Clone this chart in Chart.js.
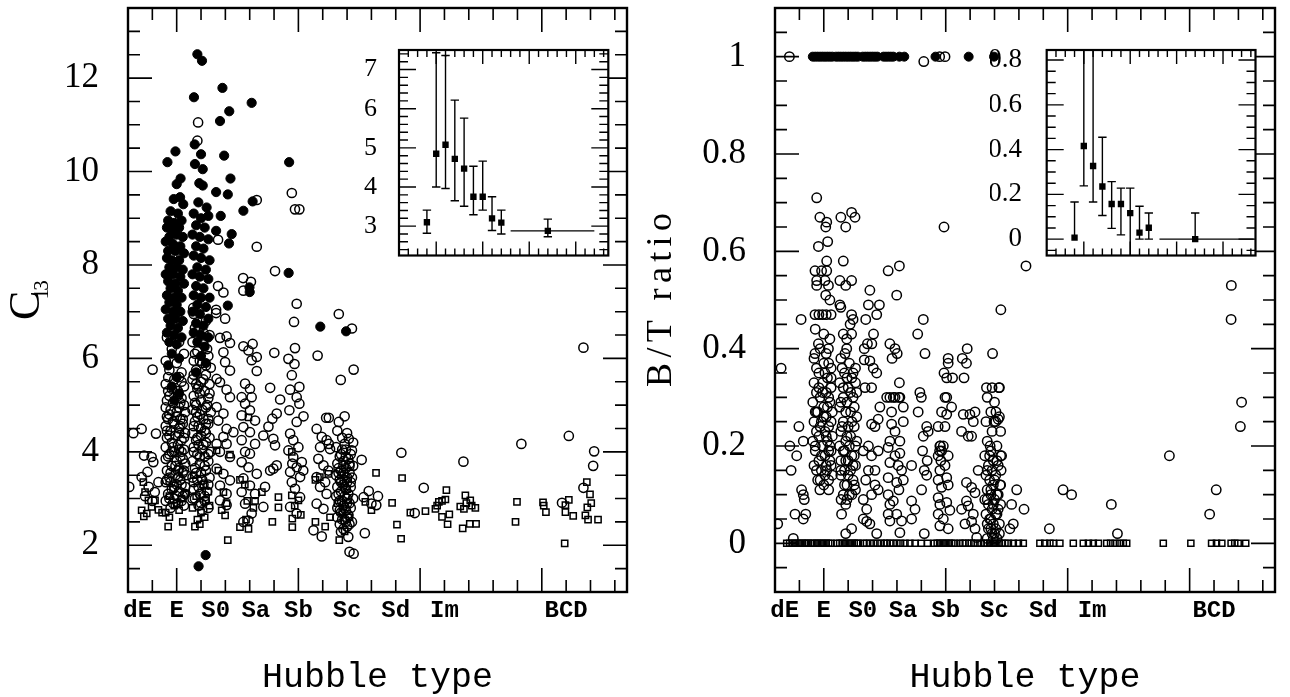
<!DOCTYPE html>
<html>
<head>
<meta charset="utf-8">
<script src="https://cdn.jsdelivr.net/npm/chart.js"></script>
<style>
body{margin:0;background:#fff;}
canvas{position:absolute;}
</style>
</head>
<body>
<canvas id="mainL" width="645" height="697" style="left:0;top:0"></canvas>
<canvas id="mainR" width="645" height="697" style="left:645px;top:0"></canvas>
<canvas id="insL" width="270" height="230" style="left:345px;top:30px"></canvas>
<canvas id="insR" width="270" height="230" style="left:990px;top:30px"></canvas>
<script>
// tick labels
const hubbleTickValues = [-1.6, 0, 1.6, 3.25, 5, 7, 9, 11, 16];
const hubbleTickLabels = ['dE', 'E', 'S0', 'Sa', 'Sb', 'Sc', 'Sd', 'Im', 'BCD'];
const c31TickValues = [2, 4, 6, 8, 10, 12];
const c31TickLabels = ['2', '4', '6', '8', '10', '12'];
const btTickValues = [0, 0.2, 0.4, 0.6, 0.8, 1];
const btTickLabels = ['0', '0.2', '0.4', '0.6', '0.8', '1'];
const insetC31TickValues = [3, 4, 5, 6, 7];
const insetC31TickLabels = ['3', '4', '5', '6', '7'];
const insetBtTickValues = [0, 0.2, 0.4, 0.6, 0.8];
const insetBtTickLabels = ['0', '0.2', '0.4', '0.6', '0.8'];

// left panel: C31 vs type  [type, C31]
const c31Filled = [
[0.85,12.51],[1.04,12.37],[1.88,11.79],[0.71,11.59],[3.08,11.47],[2.16,11.29],[1.78,11.08],[0.74,10.58],[-0.05,10.43],[-0.38,10.2],
[1.0,10.37],[1.95,10.34],[0.75,10.16],[1.07,10.05],[4.62,10.2],[2.21,9.85],[0.16,9.85],[0.0,9.73],[0.93,9.75],[1.07,9.7],
[1.62,9.56],[2.1,9.51],[3.12,9.36],[2.74,9.16],[-0.12,9.41],[0.14,9.45],[0.27,9.3],[0.89,9.34],[1.23,9.23],[1.81,9.05],
[1.62,8.73],[2.26,8.66],[2.15,8.46],[4.6,7.83],[2.99,7.52],[3.0,7.42],[2.1,7.13],[6.96,6.58],[5.9,6.68],[1.19,1.79],[0.9,1.55],
[-0.25,9.15],[0.05,9.1],[-0.35,8.95],[-0.1,8.9],[0.2,8.95],[-0.4,8.8],[-0.2,8.75],[0.1,8.8],[-0.3,8.6],[0.0,8.65],
[0.25,8.6],[-0.45,8.5],[-0.15,8.45],[0.15,8.4],[-0.35,8.3],[-0.05,8.3],[0.3,8.25],[-0.4,8.15],[-0.2,8.1],[0.1,8.1],
[-0.3,7.95],[0.0,7.95],[0.25,7.9],[-0.45,7.8],[-0.15,7.8],[0.15,7.75],[-0.35,7.65],[-0.05,7.6],[0.3,7.6],[-0.25,7.5],
[0.05,7.45],[-0.4,7.35],[-0.1,7.3],[0.2,7.3],[-0.3,7.2],[0.0,7.15],[-0.45,7.05],[-0.15,7.0],[0.15,7.0],[-0.35,6.85],
[-0.05,6.85],[0.25,6.8],[-0.25,6.7],[0.05,6.65],[-0.4,6.55],[-0.1,6.5],[0.2,6.45],[-0.3,6.35],[0.0,6.3],[-0.2,6.1],
[0.1,6.0],[-0.35,5.85],[0.0,5.6],[-0.2,5.4],[0.1,5.25],[-0.1,5.1],
[0.7,9.1],[1.0,9.0],[1.3,9.05],[0.8,8.85],[1.15,8.8],[0.65,8.65],[0.95,8.6],[1.3,8.55],[0.8,8.4],[1.1,8.35],
[0.7,8.2],[1.0,8.15],[1.35,8.1],[0.85,7.95],[1.2,7.9],[0.65,7.8],[0.95,7.75],[1.3,7.7],[0.8,7.55],[1.1,7.5],
[0.7,7.35],[1.0,7.3],[1.35,7.3],[0.85,7.15],[1.2,7.1],[0.65,7.0],[0.95,6.95],[1.3,6.85],[0.8,6.75],[1.1,6.7],
[0.7,6.55],[1.0,6.5],[1.3,6.45],[0.85,6.35],[1.15,6.25],[1.0,6.05],[1.2,5.9],[0.8,5.7]
];
const c31Open = [
[0.88,11.05],[0.85,10.66],[3.29,9.39],[4.73,9.54],[4.86,9.19],[5.04,9.19],[1.7,8.54],[3.29,8.39],[4.04,7.87],[2.73,7.72],
[3.05,7.64],[2.74,7.45],[1.7,7.55],[1.92,7.41],[4.93,7.17],[0.68,7.08],[1.62,7.04],
[6.66,6.95],[7.2,6.64],[6.74,5.54],[7.27,5.76],[6.25,4.73],[6.66,4.64],[6.9,4.76],[7.07,4.28],[6.9,4.17],
[7.2,4.03],[7.6,3.83],[6.25,4.17],[7.1,1.86],[7.27,1.82],[7.05,2.18],[6.75,2.29],[7.89,3.16],[8.27,3.05],[7.68,3.03],
[8.0,2.89],[8.2,2.86],[7.73,2.26],[9.23,3.98],[10.15,3.23],[9.78,2.69],[11.78,3.79],[14.16,4.17],[16.11,4.34],[15.83,2.91],
[16.71,6.23],[17.15,4.01],[17.11,3.7],[16.71,3.23],
[-1.78,4.4],[-1.44,4.49],[-0.85,4.39],[-0.99,5.76],[-1.95,3.25],[-1.34,3.92],[-1.03,3.89],[-0.96,3.78],[-1.2,3.57],[-1.44,3.46],
[-0.75,3.35],[-1.15,3.25],[-0.9,3.14],[-1.3,3.05],[-1.0,2.95],
[-0.4,6.45],[0.1,6.35],[-0.2,6.2],[0.3,6.1],[-0.45,5.95],[0.0,5.9],[-0.3,5.75],[0.2,5.7],[-0.1,5.55],[-0.45,5.45],
[0.3,5.4],[0.05,5.3],[-0.3,5.2],[0.2,5.15],[-0.15,5.05],[-0.45,4.95],[0.1,4.95],[0.35,4.85],[-0.3,4.8],[0.0,4.75],
[-0.15,4.65],[0.25,4.6],[-0.45,4.55],[0.1,4.5],[-0.25,4.45],[0.35,4.4],[-0.05,4.35],[-0.4,4.3],[0.2,4.25],[-0.2,4.2],
[0.05,4.15],[-0.45,4.1],[0.3,4.05],[-0.1,4.0],[-0.3,3.95],[0.15,3.9],[-0.45,3.85],[0.0,3.8],[0.35,3.75],[-0.2,3.7],
[0.1,3.65],[-0.4,3.6],[0.25,3.55],[-0.05,3.5],[-0.3,3.45],[0.15,3.4],[-0.45,3.35],[0.0,3.3],[0.35,3.25],[-0.2,3.2],
[0.1,3.15],[-0.35,3.1],[0.25,3.05],[-0.1,3.0],[-0.45,2.95],[0.05,2.9],[0.3,2.85],[-0.25,2.8],[0.15,4.7],[-0.35,4.7],
[0.2,4.0],[-0.25,3.35],[0.4,3.5],[-0.4,5.1],[0.1,5.6],
[-0.35,5.6],[0.2,5.5],[-0.2,5.35],[0.05,5.2],[0.3,5.0],[-0.25,4.9],[0.0,4.85],[-0.4,4.75],[0.25,4.7],[-0.1,4.6],
[0.1,4.4],[-0.3,4.35],[0.3,4.3],[-0.15,4.1],[0.1,4.05],[-0.35,3.9],[0.25,3.85],[-0.05,3.7],[0.3,3.6],[-0.25,3.55],
[0.05,3.45],[-0.4,3.4],[0.2,3.3],[-0.1,3.25],[0.35,3.1],[-0.3,3.0],[0.0,3.05],[0.2,2.95],[-0.15,2.9],[-0.4,4.45],
[0.15,4.55],[-0.2,4.0],[0.05,3.6],[-0.35,5.3],[0.15,5.05],
[0.7,6.95],[1.2,6.8],[0.9,6.6],[1.35,6.5],[0.65,6.35],[1.1,6.3],[0.85,6.15],[1.3,6.05],[0.7,5.95],[1.05,5.9],
[1.4,5.8],[0.8,5.75],[1.2,5.65],[0.65,5.55],[1.0,5.5],[1.35,5.45],[0.85,5.35],[1.15,5.3],[0.7,5.2],[1.3,5.15],
[1.0,5.1],[0.8,5.0],[1.2,4.95],[0.65,4.9],[1.4,4.85],[0.95,4.8],[1.1,4.7],[0.75,4.65],[1.3,4.6],[0.9,4.55],
[1.15,4.45],[0.65,4.4],[1.0,4.35],[1.35,4.3],[0.8,4.25],[1.2,4.2],[0.7,4.1],[1.05,4.05],[1.4,4.0],[0.85,3.95],
[1.15,3.9],[0.65,3.8],[1.3,3.8],[0.95,3.75],[0.75,3.65],[1.2,3.6],[1.0,3.55],[0.65,3.45],[1.35,3.45],[0.85,3.4],
[1.1,3.3],[0.7,3.2],[1.25,3.15],[0.95,3.1],[0.75,3.0],[1.15,2.95],[0.9,2.85],[1.3,2.8],[1.05,2.75],[0.8,5.45],
[1.25,5.0],[0.9,4.15],[1.1,6.55],[0.75,6.65],
[0.75,6.1],[1.25,6.2],[0.95,5.95],[1.2,5.85],[0.7,5.65],[0.9,5.4],[1.1,5.55],[1.35,5.25],[0.75,5.05],[1.05,4.9],
[0.85,4.75],[1.3,4.7],[0.7,4.55],[1.0,4.5],[1.2,4.4],[0.85,4.3],[1.1,4.15],[0.7,4.0],[1.3,3.95],[0.95,3.9],
[1.15,3.7],[0.8,3.55],[1.05,3.4],[1.3,3.3],[0.7,3.35],[0.9,3.25],[1.15,3.05],[0.65,3.0],[1.0,2.9],[1.2,4.6],
[0.8,4.85],[0.95,5.25],
[1.62,6.97],[1.99,6.85],[1.78,6.44],[2.05,6.47],[2.19,6.33],[1.92,6.13],[1.99,5.92],[2.19,5.74],[1.64,5.56],[1.78,5.49],
[2.05,5.33],[2.19,5.17],[1.64,4.96],[1.92,4.82],[1.71,4.67],[2.05,4.49],[2.33,4.42],[1.92,4.32],[1.64,4.17],[2.05,4.17],
[1.78,4.0],[2.19,3.89],[1.64,3.64],[1.92,3.53],[2.19,3.39],[1.78,3.28],[2.05,3.1],[1.78,2.96],[2.05,2.86],
[2.74,6.26],[3.12,6.31],[2.95,6.17],[3.29,6.03],[3.08,5.96],[3.29,5.73],[2.81,5.46],[3.01,5.35],[2.67,5.17],[3.08,5.17],
[2.81,5.03],[3.01,4.89],[2.67,4.78],[3.22,4.67],[2.74,4.53],[3.01,4.42],[2.67,4.25],[3.22,4.17],[2.81,4.0],[3.01,3.96],
[2.67,3.78],[2.95,3.67],[3.29,3.53],[2.74,3.43],[3.01,3.28],[2.67,3.14],[3.22,3.1],[2.81,2.89],[3.08,2.68],[2.74,2.5],
[2.95,2.53],
[4.01,6.12],[3.84,5.37],[4.25,5.12],[4.11,4.82],[3.93,4.71],[3.77,4.54],[3.97,4.28],[4.04,4.14],[3.56,4.35],[3.63,3.25],
[3.56,2.82],[4.11,3.71],[3.97,3.64],[3.84,3.6],
[4.82,6.78],[4.86,6.22],[4.59,5.99],[4.84,5.88],[4.73,5.64],[5.04,5.39],[4.66,5.33],[4.93,5.17],[5.04,5.03],[5.21,4.76],
[4.63,4.89],[4.93,4.64],[4.66,4.39],[4.79,4.25],[5.0,4.1],[4.59,4.03],[4.79,3.89],[5.14,3.78],[4.93,3.67],[4.66,3.57],
[5.07,3.46],[4.73,3.35],[4.86,3.21],[5.07,3.03],[4.66,2.82],[4.93,2.68],[5.2,3.6],[4.75,3.75],
[6.14,4.73],[5.79,6.06],[5.75,4.49],[5.96,4.32],[6.16,4.25],[5.89,4.1],[6.3,4.06],[5.82,3.85],[6.03,3.71],[6.23,3.6],
[5.75,3.46],[6.1,3.35],[5.89,3.25],[6.16,3.1],[5.75,2.89],[6.03,2.78],[5.62,2.32],[5.96,2.19],
[6.6,4.45],[7.0,4.4],[6.8,4.3],[7.25,4.2],[6.55,4.1],[6.95,4.05],[7.15,3.95],[6.7,3.9],[7.05,3.85],[6.85,3.8],
[6.6,3.75],[7.25,3.7],[6.95,3.65],[6.75,3.6],[7.1,3.55],[6.55,3.5],[6.9,3.5],[7.2,3.45],[6.7,3.4],[7.0,3.35],
[6.85,3.3],[6.6,3.25],[7.15,3.25],[6.95,3.2],[6.75,3.15],[7.05,3.1],[6.55,3.05],[6.9,3.05],[7.25,3.0],[6.7,2.95],
[7.0,2.9],[6.85,2.85],[6.6,2.8],[7.15,2.8],[6.95,2.75],[6.75,2.7],[7.05,2.65],[6.6,2.6],[6.9,2.55],[7.2,2.5],
[6.7,2.45],[7.0,2.4],[6.85,2.35],[6.65,3.55],[7.1,3.75],[6.8,4.05],[7.0,3.0],[6.9,3.4],
[6.75,3.95],[6.95,3.9],[7.1,3.7],[6.65,3.65],[6.85,3.55],[7.0,3.45],[6.75,3.35],[7.15,3.35],[6.9,3.25],[6.65,3.1],
[7.0,3.0],[6.8,2.95],[7.1,2.9],[6.9,2.8],[6.7,2.75],[7.0,2.6],[6.8,2.55],[7.1,2.45],[6.95,2.5],[6.85,3.7]
];
const c31Square = [
[-1.37,3.35],[-1.3,3.14],[-1.44,2.75],[-1.23,2.68],[-1.03,2.82],[-0.75,2.76],[-1.16,2.96],[-0.89,2.96],[-1.35,2.62],[-0.6,2.7],
[-0.3,3.05],[0.2,3.0],[-0.1,2.85],[-0.45,2.7],[0.1,2.75],[-0.3,2.6],[-0.35,2.4],[0.25,2.5],[0.0,2.9],[-0.15,3.2],[0.35,3.1],
[0.7,3.5],[1.1,3.3],[0.8,3.05],[1.2,2.95],[0.65,2.8],[1.0,2.7],[1.35,2.85],[0.85,2.55],[1.15,2.6],[0.75,2.4],[0.95,2.45],[1.3,3.15],
[1.64,4.03],[2.19,3.94],[1.71,3.6],[1.92,3.14],[2.05,2.9],[1.85,2.75],[1.99,2.64],[2.1,2.11],
[2.6,3.4],[2.8,3.3],[2.95,4.74],[2.9,2.95],[3.22,2.95],[2.6,2.39],[2.95,2.35],[2.85,2.55],[3.15,2.8],
[4.18,3.03],[4.18,2.81],[3.93,2.5],[3.5,3.14],
[4.73,4.0],[4.73,3.07],[5.0,2.96],[4.75,2.57],[4.75,2.39],[5.1,2.65],[4.85,2.85],
[5.7,3.4],[5.88,3.46],[6.23,3.53],[6.3,2.6],[6.1,2.4],[5.7,2.5],
[6.68,2.11],[6.6,2.9],[6.8,2.7],[7.0,3.2],[6.75,3.5],[7.1,2.6],[6.9,2.3],
[8.19,3.55],[8.0,2.75],[7.75,2.93],[8.85,2.91],[9.05,2.44],[9.22,2.14],[9.26,3.44],[9.6,2.7],[10.22,2.73],[10.63,2.78],
[10.77,2.93],[10.9,2.95],[11.04,2.98],[11.08,3.18],[10.9,2.61],[11.13,2.45],[11.2,2.66],[10.7,2.85],[11.86,3.07],[11.65,2.83],
[11.8,2.78],[12.06,2.96],[12.12,2.85],[12.27,2.8],[11.75,2.36],[12.04,2.46],[12.3,2.46],[11.9,2.9],[13.98,2.93],[13.92,2.5],
[15.05,2.92],[15.08,2.85],[15.17,2.71],[16.11,2.97],[15.97,2.71],[15.94,2.04],[16.29,2.63],[16.85,3.35],[16.98,3.09],[17.03,2.9],
[16.87,2.81],[16.79,2.64],[16.9,2.55],[17.31,2.55],[15.97,2.86]
];

// right panel: B/T vs type  [type, B/T]
const btFilled = [
[-0.45,1],[-0.35,1],[-0.25,1],[-0.15,1],[-0.05,1],[0.05,1],[0.15,1],[0.25,1],[0.35,1],[0.5,1],
[0.6,1],[0.7,1],[0.8,1],[0.9,1],[1.0,1],[1.1,1],[1.2,1],[1.3,1],[1.4,1],[1.6,1],
[1.7,1],[1.8,1],[1.9,1],[2.0,1],[2.1,1],[2.2,1],[2.45,1],[2.55,1],[2.65,1],[2.75,1],
[2.85,1],[3.1,1],[3.3,1],[4.58,1],[5.94,1],[6.98,1]
];
const btOpen = [
[-1.41,1.0],[4.1,0.99],[4.75,1.0],[4.97,1.0],
[-0.29,0.71],[-0.16,0.67],[0.12,0.66],[0.08,0.65],[0.7,0.67],[1.14,0.68],[1.28,0.67],[0.9,0.65],[0.16,0.62],[-0.22,0.61],
[0.12,0.58],[0.8,0.58],[-0.36,0.56],[-0.09,0.56],[0.12,0.56],[-0.29,0.54],[0.05,0.54],[0.66,0.54],[1.14,0.54],[0.9,0.53],
[-0.29,0.53],[0.19,0.53],[0.08,0.51],[0.25,0.5],[0.66,0.49],[0.7,0.485],[-0.93,0.46],[-0.36,0.47],[-0.2,0.47],[-0.05,0.47],
[0.1,0.47],[0.3,0.47],[1.14,0.47],[1.2,0.46],[1.08,0.45],[0.8,0.43],[0.94,0.42],[1.14,0.43],[-0.22,0.41],[0.19,0.4],
[-0.36,0.39],[0.94,0.4],[0.87,0.39],[2.64,0.56],[3.1,0.57],[2.99,0.51],[1.89,0.52],[1.83,0.49],[2.28,0.49],[2.17,0.47],
[1.72,0.46],[2.04,0.43],[1.97,0.41],[1.79,0.41],[2.71,0.41],[2.92,0.4],[3.01,0.39],[2.8,0.38],[1.66,0.4],[1.66,0.377],
[1.89,0.375],[2.03,0.36],[2.17,0.35],[3.1,0.33],[1.69,0.32],[1.96,0.32],[4.08,0.46],[3.85,0.43],[4.15,0.39],[4.93,0.65],
[5.1,0.38],[5.1,0.37],[4.93,0.35],[5.04,0.34],[5.28,0.34],[5.88,0.4],[5.68,0.38],[5.85,0.37],[5.75,0.34],[6.92,0.39],
[7.26,0.48],[6.67,0.32],[6.9,0.32],[7.18,0.32],[-1.75,0.36],[3.94,0.31],[4.0,0.3],[5.04,0.3],[2.58,0.3],[2.85,0.3],[3.08,0.3],
[-1.02,0.24],[-1.39,0.2],[-1.11,0.18],[-0.84,0.21],[-1.34,0.15],[-0.91,0.11],[-0.84,0.1],[-0.8,0.09],[-1.18,0.06],[-0.74,0.06],
[-0.84,0.05],[-1.89,0.04],[-1.25,0.01],
[-0.4,0.38],[0.0,0.37],[0.3,0.36],[-0.2,0.35],[0.15,0.34],[-0.4,0.33],[-0.05,0.33],[0.3,0.32],[-0.3,0.31],[0.1,0.31],
[-0.15,0.3],[0.25,0.29],[-0.45,0.29],[0.0,0.28],[-0.25,0.27],[0.35,0.27],[0.1,0.26],[-0.4,0.25],[-0.1,0.25],[0.2,0.24],
[-0.3,0.23],[0.05,0.23],[0.35,0.22],[-0.2,0.22],[-0.45,0.21],[0.15,0.21],[-0.05,0.2],[0.3,0.19],[-0.35,0.19],[0.05,0.18],
[-0.2,0.17],[0.25,0.17],[-0.4,0.16],[0.1,0.16],[-0.1,0.15],[0.35,0.14],[-0.25,0.13],[0.2,0.13],[-0.16,0.11],[0.12,0.15],
[0.25,0.2],[0.0,0.12],[-0.3,0.27],[0.2,0.3],
[-0.35,0.44],[0.0,0.43],[0.25,0.42],[-0.15,0.4],[0.1,0.39],[-0.3,0.36],[0.05,0.35],[0.3,0.34],[-0.2,0.32],[0.15,0.28],
[-0.35,0.27],[0.0,0.26],[0.3,0.25],[-0.15,0.24],[0.1,0.22],[-0.35,0.2],[0.2,0.19],[-0.1,0.18],[0.3,0.16],[-0.3,0.15],
[0.05,0.14],[-0.15,0.13],[0.2,0.11],[-0.05,0.31],[0.2,0.37],
[0.7,0.38],[1.05,0.37],[1.3,0.36],[0.85,0.35],[1.15,0.34],[0.65,0.33],[1.0,0.32],[1.35,0.31],[0.8,0.3],[1.2,0.3],
[0.95,0.29],[0.65,0.28],[1.1,0.27],[1.35,0.26],[0.8,0.25],[1.0,0.24],[1.25,0.24],[0.7,0.23],[1.1,0.22],[0.9,0.21],
[1.35,0.21],[0.65,0.2],[1.05,0.2],[0.85,0.19],[1.25,0.18],[0.7,0.17],[1.0,0.17],[1.3,0.16],[0.85,0.15],[1.1,0.15],
[0.7,0.14],[1.2,0.13],[0.95,0.12],[1.3,0.11],[0.8,0.1],[0.71,0.09],[0.9,0.08],[0.73,0.06],[1.14,0.03],[0.9,0.02],
[1.05,0.1],[1.25,0.12],
[0.75,0.36],[1.2,0.35],[0.95,0.34],[1.3,0.33],[0.8,0.32],[1.1,0.31],[0.7,0.29],[1.25,0.28],[0.9,0.27],[1.15,0.25],
[0.75,0.24],[0.95,0.22],[1.3,0.2],[0.8,0.19],[1.15,0.18],[0.9,0.17],[0.7,0.15],[1.2,0.16],[1.0,0.14],[0.85,0.12],
[1.15,0.1],[0.95,0.09],
[1.96,0.245],[2.23,0.255],[2.1,0.24],[2.3,0.28],[1.83,0.2],[1.62,0.19],[1.96,0.18],[2.23,0.19],[1.83,0.15],[2.1,0.15],
[1.72,0.13],[2.1,0.12],[2.23,0.11],[1.62,0.09],[1.96,0.1],[1.76,0.07],[1.62,0.05],[1.89,0.04],[2.17,0.02],[1.76,0.045],
[2.71,0.3],[2.92,0.3],[3.12,0.3],[2.78,0.27],[3.26,0.28],[2.78,0.245],[2.92,0.23],[2.71,0.21],[3.12,0.21],[3.26,0.25],
[2.64,0.197],[2.92,0.18],[3.12,0.185],[2.71,0.166],[3.05,0.16],[3.19,0.15],[2.64,0.135],[2.99,0.125],[3.26,0.13],[3.6,0.16],
[2.64,0.1],[2.85,0.087],[3.08,0.11],[2.71,0.08],[2.64,0.06],[2.99,0.06],[3.19,0.046],[2.71,0.046],[3.12,0.022],[3.6,0.087],
[3.74,0.07],[3.6,0.05],
[3.87,0.27],[4.08,0.22],[4.05,0.19],[4.12,0.15],[4.22,0.14],[4.01,0.11],[4.12,0.02],[4.24,0.17],[4.28,0.23],[4.22,0.24],
[4.69,0.24],[4.97,0.24],[4.76,0.2],[4.9,0.2],[4.83,0.19],[4.69,0.18],[4.97,0.16],[5.1,0.18],[4.76,0.15],[5.04,0.135],
[4.69,0.13],[4.83,0.115],[5.1,0.12],[4.69,0.094],[4.76,0.08],[5.04,0.084],[4.69,0.06],[4.9,0.05],[5.17,0.068],[4.76,0.036],
[5.1,0.03],[4.97,0.3],[5.24,0.28],[5.04,0.265],[4.83,0.27],[4.75,0.19],[4.8,0.17],[4.78,0.2],
[5.72,0.265],[5.99,0.265],[6.2,0.27],[6.13,0.25],[5.65,0.23],[5.92,0.22],[6.06,0.22],[6.33,0.15],[5.85,0.125],[6.06,0.115],
[6.2,0.104],[5.85,0.087],[5.92,0.077],[6.13,0.06],[5.79,0.04],[6.2,0.03],[6.27,0.012],[5.65,0.07],[6.06,0.045],
[6.7,0.3],[7.0,0.29],[6.85,0.27],[7.2,0.26],[6.65,0.25],[7.05,0.25],[6.9,0.23],[7.25,0.23],[6.7,0.21],[7.1,0.2],
[6.85,0.19],[6.6,0.18],[7.25,0.18],[6.95,0.17],[6.75,0.16],[7.15,0.16],[6.9,0.15],[6.65,0.14],[7.05,0.14],[6.8,0.13],
[7.25,0.12],[6.95,0.12],[6.7,0.11],[7.1,0.1],[6.85,0.1],[6.6,0.09],[7.0,0.09],[7.25,0.08],[6.75,0.08],[6.9,0.07],
[7.15,0.07],[6.65,0.06],[7.05,0.06],[6.85,0.05],[6.95,0.04],[7.2,0.04],[6.75,0.03],[7.05,0.03],[6.9,0.02],[6.7,0.01],
[7.1,0.01],[6.98,0.25],[7.06,0.27],
[6.8,0.18],[7.1,0.17],[6.7,0.15],[7.0,0.13],[6.85,0.11],[7.15,0.1],[6.7,0.09],[6.95,0.08],[7.1,0.06],[6.8,0.05],
[6.7,0.04],[7.0,0.02],[6.85,0.03],[7.2,0.02],[6.95,0.01],
[8.29,0.57],[7.2,0.32],[7.15,0.255],[6.82,0.2],[7.29,0.18],[7.27,0.15],[7.23,0.12],[7.91,0.11],[7.7,0.08],[8.21,0.07],
[7.77,0.04],[7.63,0.03],[9.25,0.03],[9.81,0.11],[10.16,0.1],[11.79,0.08],[12.04,0.02],[14.17,0.18],[16.09,0.11],[15.82,0.06],
[16.71,0.53],[16.7,0.46],[17.13,0.29],[17.08,0.24]
];
const btSquare = [
[-1.52,0],[-1.4,0],[-1.3,0],[-1.2,0],[-1.1,0],[-1.0,0],[-0.9,0],[-0.8,0],[-0.7,0],[-0.63,0],
[-0.5,0],[-0.4,0],[-0.3,0],[-0.2,0],[-0.1,0],[0.0,0],[0.1,0],[0.2,0],[0.3,0],
[0.53,0],[0.65,0],[0.75,0],[0.85,0],[0.95,0],[1.05,0],[1.15,0],[1.25,0],[1.35,0],[1.42,0],
[1.62,0],[1.75,0],[1.9,0],[2.05,0],[2.2,0],[2.35,0],[2.5,0],[2.58,0],
[2.71,0],[2.85,0],[3.0,0],[3.15,0],[3.33,0],[3.53,0],[3.74,0],[4.0,0],[4.25,0],
[4.53,0],[4.65,0],[4.75,0],[4.85,0],[4.95,0],[5.05,0],[5.15,0],[5.25,0],[5.37,0],
[5.58,0],[5.7,0],[5.8,0],[5.95,0],[6.05,0],[6.15,0],[6.3,0],[6.45,0],[6.6,0],[6.7,0],
[6.8,0],[6.9,0],[7.0,0],[7.1,0],[7.2,0],[7.3,0],[7.43,0],
[7.57,0],[7.77,0],[7.98,0],[8.18,0],[8.86,0],[9.06,0],[9.27,0],[9.41,0],[9.68,0],[10.23,0],
[10.64,0],[10.85,0],[11.05,0],[11.26,0],[11.6,0],[11.76,0],[11.94,0],[12.12,0],[12.28,0],[12.42,0],
[13.92,0],[15.05,0],[15.9,0],[16.1,0],[16.32,0],[16.7,0],[16.85,0],[16.99,0],[17.3,0]
];

// insets: binned means with error bars
const insetTypes = [-1, 0, 1, 2, 3, 4, 5, 6, 7, 12];
const insetC31Mean = [3.10, 4.85, 5.08, 4.72, 4.47, 3.75, 3.75, 3.20, 3.09, 2.88];
const insetC31Lo   = [2.82, 4.00, 3.96, 3.65, 3.51, 3.29, 3.41, 2.89, 2.80, 2.73];
const insetC31Hi   = [3.41, 7.43, 7.36, 6.22, 5.76, 4.53, 4.66, 3.75, 3.41, 3.18];
const insetBtMean  = [0.007, 0.416, 0.327, 0.235, 0.157, 0.157, 0.116, 0.029, 0.051, 0.0];
const insetBtLo    = [0.0, 0.238, 0.166, 0.106, 0.048, 0.019, -0.1, 0.0, 0.0, 0.0];
const insetBtHi    = [0.166, 0.95, 0.95, 0.455, 0.257, 0.228, 0.228, 0.147, 0.117, 0.117];
const insetC31BcdRange = [8, 17];
const insetBtBcdRange = [8.15, 18.3];

const toXY = a => a.map(p => ({x: p[0], y: p[1]}));

// inward ticks on all four sides + frame
const frameTicks = {
  id: 'frameTicks',
  beforeDraw(chart, args, o) {
    if (!o.fill) return;
    const a = chart.chartArea, ctx = chart.ctx;
    ctx.save();
    ctx.fillStyle = '#fff';
    ctx.fillRect(a.left, a.top, a.right - a.left, a.bottom - a.top);
    ctx.restore();
  },
  afterDraw(chart, args, o) {
    const {ctx, chartArea: a, scales} = chart;
    ctx.save();
    ctx.strokeStyle = '#000';
    ctx.lineWidth = o.tickWidth;
    ctx.beginPath();
    const xs = scales.x, ys = scales.y;
    for (let n = Math.ceil(xs.min / o.xStep); n * o.xStep <= xs.max; n++) {
      const px = xs.getPixelForValue(n * o.xStep);
      if (px <= a.left + 1 || px >= a.right - 1) continue;
      const len = (n % o.xEvery === 0) ? o.xMajor : o.xMinor;
      ctx.moveTo(px, a.bottom); ctx.lineTo(px, a.bottom - len);
      ctx.moveTo(px, a.top); ctx.lineTo(px, a.top + len);
    }
    for (let n = Math.ceil(ys.min / o.yStep - 1e-9); n * o.yStep <= ys.max + 1e-9; n++) {
      const py = ys.getPixelForValue(n * o.yStep);
      if (py <= a.top + 1 || py >= a.bottom - 1) continue;
      const len = (n % o.yEvery === 0) ? o.yMajor : o.yMinor;
      ctx.moveTo(a.left, py); ctx.lineTo(a.left + len, py);
      ctx.moveTo(a.right, py); ctx.lineTo(a.right - len, py);
    }
    ctx.stroke();
    ctx.lineWidth = o.frameWidth;
    ctx.strokeRect(a.left, a.top, a.right - a.left, a.bottom - a.top);
    ctx.restore();
  }
};

// rotated y-axis title, drawn as text
const yTitle = {
  id: 'yTitle',
  afterDraw(chart, args, o) {
    if (!o.parts) return;
    const ctx = chart.ctx;
    ctx.save();
    ctx.translate(o.x, o.y);
    ctx.rotate(-Math.PI / 2);
    ctx.fillStyle = '#000';
    ctx.textBaseline = 'alphabetic';
    ctx.textAlign = 'left';
    let pos = 0;
    o.parts.forEach(p => {
      ctx.font = p.font;
      ctx.letterSpacing = '0px';
      if (p.length) {
        const w = ctx.measureText(p.text).width;
        ctx.letterSpacing = ((p.length - w) / (p.text.length - 1)) + 'px';
      }
      ctx.fillText(p.text, pos, p.dy || 0);
      pos += ctx.measureText(p.text).width;
    });
    ctx.restore();
  }
};

// error bars for the insets
const errBars = {
  id: 'errBars',
  afterDatasetsDraw(chart, args, o) {
    if (!o.xs) return;
    const {ctx, chartArea: a, scales: {x, y}} = chart;
    ctx.save();
    ctx.beginPath();
    ctx.rect(a.left, a.top, a.right - a.left, a.bottom - a.top);
    ctx.clip();
    ctx.strokeStyle = '#000';
    ctx.lineWidth = 1.4;
    ctx.beginPath();
    o.xs.forEach((t, i) => {
      const px = x.getPixelForValue(t);
      const pl = y.getPixelForValue(o.lo[i]), ph = y.getPixelForValue(o.hi[i]);
      ctx.moveTo(px, pl); ctx.lineTo(px, ph);
      ctx.moveTo(px - o.cap, ph); ctx.lineTo(px + o.cap, ph);
      if (o.lo[i] < o.mean[i] - 0.02 * (y.max - y.min)) {
        ctx.moveTo(px - o.cap, pl); ctx.lineTo(px + o.cap, pl);
      }
    });
    const last = o.xs.length - 1, py = y.getPixelForValue(o.mean[last]);
    ctx.moveTo(x.getPixelForValue(o.bin[0]), py);
    ctx.lineTo(x.getPixelForValue(o.bin[1]), py);
    ctx.stroke();
    ctx.restore();
  }
};

const serif = 'Liberation Serif';
const mono = 'Liberation Mono';

function openSet(data, style, r, bw) {
  return {data: toXY(data), pointStyle: style, pointRadius: r, borderWidth: bw,
          borderColor: '#000', backgroundColor: 'rgba(0,0,0,0)'};
}
function filledSet(data, r) {
  return {data: toXY(data), pointStyle: 'circle', pointRadius: r, borderWidth: 1,
          borderColor: '#000', backgroundColor: '#000'};
}

function mainChart(id, datasets, yOpt, titleOpt, padRight, yWidth) {
  return new Chart(document.getElementById(id), {
    type: 'scatter',
    data: {datasets: datasets},
    options: {
      responsive: false,
      animation: false,
      events: [],
      layout: {padding: {left: 0, right: padRight, top: 8, bottom: 0}},
      plugins: {
        legend: {display: false},
        tooltip: {enabled: false},
        frameTicks: {tickWidth: 1.6, frameWidth: 2.4, xStep: 1, xEvery: 5, xMajor: 24, xMinor: 12,
                     yStep: yOpt.step, yEvery: 4, yMajor: 24, yMinor: 12},
        yTitle: titleOpt
      },
      scales: {
        x: {
          type: 'linear', min: -2, max: 18.5,
          grid: {display: false}, border: {display: false},
          afterBuildTicks: s => { s.ticks = hubbleTickValues.map(v => ({value: v})); },
          afterFit: s => { s.height = 105; s.paddingLeft = 0; s.paddingRight = 0; },
          ticks: {autoSkip: false, maxRotation: 0, padding: -3, color: '#000',
                  font: {family: mono, size: 24, weight: 'bold'}, callback: (v, i) => hubbleTickLabels[i]},
          title: {display: true, text: 'Hubble type', color: '#000',
                  font: {family: mono, size: 35, lineHeight: 1}, padding: {top: 0, bottom: 2}}
        },
        y: {
          type: 'linear', min: yOpt.min, max: yOpt.max,
          grid: {display: false}, border: {display: false},
          afterBuildTicks: s => { s.ticks = yOpt.values.map(v => ({value: v})); },
          afterFit: s => { s.width = yWidth; s.paddingTop = 0; s.paddingBottom = 0; },
          ticks: {padding: 21, color: '#000', font: {family: serif, size: 35},
                  callback: (v, i) => yOpt.labels[i]}
        }
      }
    },
    plugins: [frameTicks, yTitle]
  });
}

function insetChart(id, mean, lo, hi, bin, yOpt, yWidth, padRight, labelPad, fontSize) {
  return new Chart(document.getElementById(id), {
    type: 'scatter',
    data: {datasets: [{
      data: insetTypes.map((t, i) => ({x: t, y: mean[i]})),
      pointStyle: 'rect', pointRadius: 4.5, borderWidth: 0,
      backgroundColor: '#000', borderColor: '#000'
    }]},
    options: {
      responsive: false,
      animation: false,
      events: [],
      layout: {padding: {left: 0, right: padRight, top: 20, bottom: 1.7}},
      plugins: {
        legend: {display: false},
        tooltip: {enabled: false},
        frameTicks: {fill: true, tickWidth: 1.4, frameWidth: 2.2, xStep: 1, xEvery: 5, xMajor: 14, xMinor: 7,
                     yStep: yOpt.step, yEvery: yOpt.every, yMajor: 17, yMinor: 9},
        errBars: {xs: insetTypes, mean: mean, lo: lo, hi: hi, bin: bin, cap: 4.2}
      },
      scales: {
        x: {type: 'linear', min: -4, max: 18.5, display: false},
        y: {
          type: 'linear', min: yOpt.min, max: yOpt.max,
          grid: {display: false}, border: {display: false},
          afterBuildTicks: s => { s.ticks = yOpt.values.map(v => ({value: v})); },
          afterFit: s => { s.width = yWidth; s.paddingTop = 0; s.paddingBottom = 0; },
          ticks: {padding: labelPad, color: '#000', font: {family: serif, size: fontSize},
                  callback: (v, i) => yOpt.labels[i]}
        }
      }
    },
    plugins: [frameTicks, errBars]
  });
}

mainChart('mainL',
  [openSet(c31Open, 'circle', 4.6, 1.5), openSet(c31Square, 'rect', 4.4, 1.5), filledSet(c31Filled, 4.6)],
  {min: 1, max: 13.5, step: 0.5, values: c31TickValues, labels: c31TickLabels},
  {x: 39, y: 320, parts: [{text: 'C', font: '44px "Liberation Serif"'}, {text: '31', font: '21px "Liberation Serif"', dy: 9}]},
  18, 128);

mainChart('mainR',
  [openSet(btOpen, 'circle', 4.7, 1.5), openSet(btSquare, 'rect', 4.3, 1.5), filledSet(btFilled, 4.5)],
  {min: -0.1, max: 1.1, step: 0.05, values: btTickValues, labels: btTickLabels},
  {x: 26, y: 387, parts: [{text: 'B/T ratio', font: '36px "Liberation Serif"', length: 174}]},
  15, 130);

insetChart('insL', insetC31Mean, insetC31Lo, insetC31Hi, insetC31BcdRange,
  {min: 2.25, max: 7.5, step: 0.2, every: 5, values: insetC31TickValues, labels: insetC31TickLabels},
  54, 6.7, 14, 26);

insetChart('insR', insetBtMean, insetBtLo, insetBtHi, insetBtBcdRange,
  {min: -0.073, max: 0.845, step: 0.05, every: 4, values: insetBtTickValues, labels: insetBtTickLabels},
  56.7, 4.3, 16.7, 27);
</script>
</body>
</html>
